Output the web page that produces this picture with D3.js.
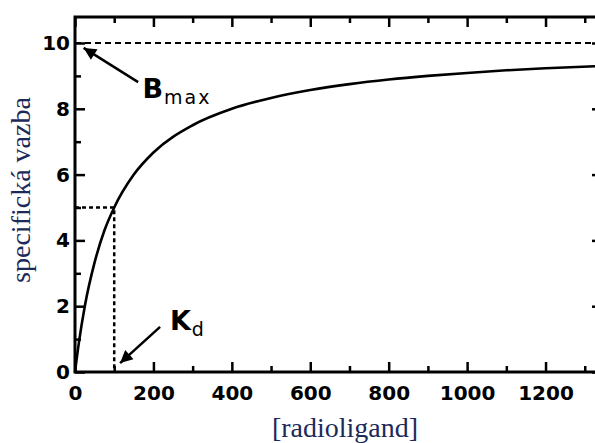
<!DOCTYPE html>
<html>
<head>
<meta charset="utf-8">
<script src="https://cdn.jsdelivr.net/npm/d3@7"></script>
<style>
  body { margin: 0; background: #fff; }
  svg { display: block; }
</style>
</head>
<body>
<script>
// binding curve
let ligand = [0, 10, 25, 50, 75, 100, 150, 200, 300, 400, 500, 600, 700, 800, 900, 1000, 1100, 1200, 1344];
let binding = [0, 0.9, 2.0, 3.33, 4.3, 5.0, 6.0, 6.67, 7.5, 8.0, 8.33, 8.57, 8.75, 8.89, 9.0, 9.09, 9.17, 9.23, 9.3];

let xMajor = [0, 200, 400, 600, 800, 1000, 1200];
let xMinor = [100, 300, 500, 700, 900, 1100, 1300];
let yMajor = [0, 2, 4, 6, 8, 10];
let yMinor = [1, 3, 5, 7, 9];

let bmax = 10;
let kd = 100;

let width = 595;
let height = 443;

let x = d3.scaleLinear().domain([0, 1344]).range([75, 602]);
let y = d3.scaleLinear().domain([0, 10.79]).range([372, 17]);

let svg = d3
  .select("body")
  .append("svg")
  .attr("width", width)
  .attr("height", height);

svg
  .append("defs")
  .append("marker")
  .attr("id", "head")
  .attr("viewBox", "0 0 10 10")
  .attr("refX", 10)
  .attr("refY", 5)
  .attr("markerWidth", 7.5)
  .attr("markerHeight", 5)
  .attr("markerUnits", "strokeWidth")
  .attr("orient", "auto")
  .append("path")
  .attr("d", "M0,0 L10,5 L0,10 Z")
  .attr("fill", "#000");

// Bmax dashed line
svg
  .append("line")
  .attr("x1", x(0))
  .attr("x2", x(1344))
  .attr("y1", y(bmax))
  .attr("y2", y(bmax))
  .attr("stroke", "#000")
  .attr("stroke-width", 1.8)
  .attr("stroke-dasharray", "6,4");

// Kd dotted guides
svg
  .append("path")
  .attr("d", `M${x(0)},${y(bmax / 2)} H${x(kd)} V${y(0)}`)
  .attr("fill", "none")
  .attr("stroke", "#000")
  .attr("stroke-width", 2.5)
  .attr("stroke-dasharray", "4,3");

// curve
let line = d3
  .line()
  .x((d, i) => x(ligand[i]))
  .y(d => y(d))
  .curve(d3.curveMonotoneX);

svg
  .append("path")
  .datum(binding)
  .attr("d", line)
  .attr("fill", "none")
  .attr("stroke", "#000")
  .attr("stroke-width", 2.6);

// axes, ticks inward
let axisStyle = g => {
  g.select(".domain").remove();
  g.selectAll(".tick line").attr("stroke", "#000").attr("stroke-width", 2.5);
  g.selectAll(".tick text")
    .attr("fill", "#000")
    .attr("font-family", "DejaVu Sans")
    .attr("font-weight", "bold")
    .attr("font-size", 20);
};

svg
  .append("g")
  .attr("transform", `translate(0,${y(0)})`)
  .call(d3.axisBottom(x).tickValues(xMajor).tickSize(-10).tickPadding(14).tickFormat(d3.format("d")))
  .call(axisStyle);
svg
  .append("g")
  .attr("transform", `translate(0,${y(0)})`)
  .call(d3.axisBottom(x).tickValues(xMinor).tickSize(-6).tickFormat(""))
  .call(axisStyle);
svg
  .append("g")
  .attr("transform", `translate(0,${y(10.79)})`)
  .call(d3.axisTop(x).tickValues(xMajor).tickSize(-10).tickFormat(""))
  .call(axisStyle);
svg
  .append("g")
  .attr("transform", `translate(0,${y(10.79)})`)
  .call(d3.axisTop(x).tickValues(xMinor).tickSize(-6).tickFormat(""))
  .call(axisStyle);

svg
  .append("g")
  .attr("transform", `translate(${x(0)},0)`)
  .call(d3.axisLeft(y).tickValues(yMajor).tickSize(-10).tickPadding(5))
  .call(axisStyle);
svg
  .append("g")
  .attr("transform", `translate(${x(0)},0)`)
  .call(d3.axisLeft(y).tickValues(yMinor).tickSize(-6).tickFormat(""))
  .call(axisStyle);
svg
  .append("g")
  .attr("transform", `translate(${x(1344)},0)`)
  .call(d3.axisRight(y).tickValues(yMajor).tickSize(-10).tickFormat(""))
  .call(axisStyle);
svg
  .append("g")
  .attr("transform", `translate(${x(1344)},0)`)
  .call(d3.axisRight(y).tickValues(yMinor).tickSize(-6).tickFormat(""))
  .call(axisStyle);

// frame
svg
  .append("rect")
  .attr("x", x(0))
  .attr("y", y(10.79))
  .attr("width", x(1344) - x(0))
  .attr("height", y(0) - y(10.79))
  .attr("fill", "none")
  .attr("stroke", "#000")
  .attr("stroke-width", 3);

// annotations
let arrow = (x1, y1, x2, y2) =>
  svg
    .append("line")
    .attr("x1", x(x1))
    .attr("y1", y(y1))
    .attr("x2", x(x2))
    .attr("y2", y(y2))
    .attr("stroke", "#000")
    .attr("stroke-width", 2.5)
    .attr("marker-end", "url(#head)");

arrow(161, 8.81, 22, 9.85);
arrow(217, 1.37, 115, 0.27);

let label = (px, py, main, sub) => {
  let t = svg
    .append("text")
    .attr("x", x(px))
    .attr("y", y(py))
    .attr("font-family", "DejaVu Sans")
    .attr("font-weight", "bold")
    .attr("font-size", 27)
    .attr("fill", "#000");
  t.append("tspan").text(main);
  t.append("tspan")
    .attr("dy", 6)
    .attr("dx", 1)
    .attr("font-size", 19)
    .attr("font-weight", "normal")
    .attr("letter-spacing", 2)
    .text(sub);
};

label(172, 8.33, "B", "max");
label(242, 1.28, "K", "d");

// axis titles
svg
  .append("text")
  .attr("x", 345)
  .attr("y", 437)
  .attr("text-anchor", "middle")
  .attr("font-family", "Liberation Serif")
  .attr("font-size", 28)
  .attr("fill", "#1c2a5a")
  .text("[radioligand]");

svg
  .append("text")
  .attr("transform", "translate(30,190) rotate(-90)")
  .attr("text-anchor", "middle")
  .attr("font-family", "Liberation Serif")
  .attr("font-size", 28)
  .attr("fill", "#1c2a5a")
  .text("specifická vazba");
</script>
</body>
</html>
